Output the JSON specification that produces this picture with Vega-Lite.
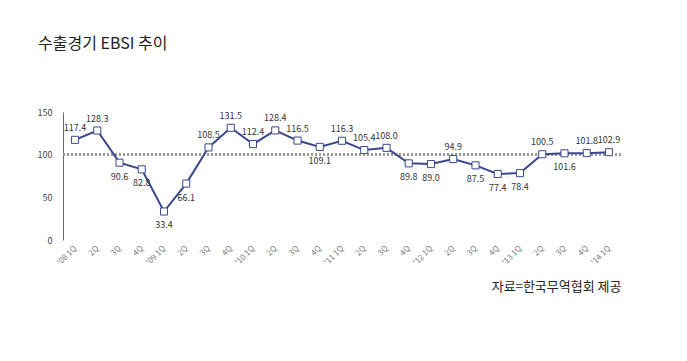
{
  "$schema": "https://vega.github.io/schema/vega-lite/v6.json",
  "width": 558,
  "height": 128,
  "autosize": "none",
  "padding": {"left": 63, "top": 112, "right": 66, "bottom": 121},
  "background": "white",
  "title": {"text": "수출경기 EBSI 추이", "anchor": "start", "frame": "group", "dx": -25, "offset": 56, "fontSize": 16, "fontWeight": "normal", "font": "Noto Sans CJK KR", "color": "#222"},
  "config": {"view": {"stroke": null}, "font": "Noto Sans CJK KR"},
  "data": {"values": [
    {"q": "'08 1Q", "v": 117.4, "pos": "up"},
    {"q": "'08 2Q", "v": 128.3, "pos": "up"},
    {"q": "'08 3Q", "v": 90.6, "pos": "down"},
    {"q": "'08 4Q", "v": 82.8, "pos": "down"},
    {"q": "'09 1Q", "v": 33.4, "pos": "down"},
    {"q": "'09 2Q", "v": 66.1, "pos": "down"},
    {"q": "'09 3Q", "v": 108.5, "pos": "up"},
    {"q": "'09 4Q", "v": 131.5, "pos": "up"},
    {"q": "'10 1Q", "v": 112.4, "pos": "up"},
    {"q": "'10 2Q", "v": 128.4, "pos": "up"},
    {"q": "'10 3Q", "v": 116.5, "pos": "up"},
    {"q": "'10 4Q", "v": 109.1, "pos": "down"},
    {"q": "'11 1Q", "v": 116.3, "pos": "up"},
    {"q": "'11 2Q", "v": 105.4, "pos": "up"},
    {"q": "'11 3Q", "v": 108.0, "pos": "up"},
    {"q": "'11 4Q", "v": 89.8, "pos": "down"},
    {"q": "'12 1Q", "v": 89.0, "pos": "down"},
    {"q": "'12 2Q", "v": 94.9, "pos": "up"},
    {"q": "'12 3Q", "v": 87.5, "pos": "down"},
    {"q": "'12 4Q", "v": 77.4, "pos": "down"},
    {"q": "'13 1Q", "v": 78.4, "pos": "down"},
    {"q": "'13 2Q", "v": 100.5, "pos": "up"},
    {"q": "'13 3Q", "v": 101.6, "pos": "down"},
    {"q": "'13 4Q", "v": 101.8, "pos": "up"},
    {"q": "'14 1Q", "v": 102.9, "pos": "up"}
  ]},
  "encoding": {
    "x": {"field": "q", "type": "ordinal", "sort": null,
      "scale": {"type": "point", "padding": 0.54},
      "axis": {"labelAngle": -45, "labelAlign": "right", "labelBaseline": "middle", "domain": false, "ticks": false,
        "labelFontSize": 8, "labelColor": "#777", "labelPadding": 7,
        "labelExpr": "indexof(datum.label, '1Q') >= 0 ? datum.label : slice(datum.label, 4)",
        "title": "자료=한국무역협회 제공", "titleAnchor": "end", "titleAlign": "right", "titleFontSize": 13, "titleFontWeight": "normal", "titleColor": "#222", "titlePadding": 14}},
    "y": {"field": "v", "type": "quantitative", "scale": {"domain": [0, 150]},
      "axis": {"values": [0, 50, 100, 150], "grid": false, "ticks": false, "domainColor": "#666", "labelColor": "#444", "labelFontSize": 9, "labelPadding": 11, "title": null}}
  },
  "layer": [
    {"mark": {"type": "rule", "color": "#9a9a9a", "strokeWidth": 2, "strokeDash": [2, 2]}, "encoding": {"y": {"datum": 100}, "x": null}},
    {"mark": {"type": "line", "color": "#3a478c", "strokeWidth": 2}},
    {"mark": {"type": "point", "shape": "square", "filled": true, "fill": "white", "stroke": "#3a478c", "strokeWidth": 1, "size": 50, "opacity": 1}},
    {"transform": [{"filter": "datum.pos == 'up'"}], "mark": {"type": "text", "dy": -12, "fontSize": 9, "color": "#333"}, "encoding": {"text": {"field": "v", "type": "quantitative", "format": ".1f"}}},
    {"transform": [{"filter": "datum.pos == 'down'"}], "mark": {"type": "text", "dy": 14, "fontSize": 9, "color": "#333"}, "encoding": {"text": {"field": "v", "type": "quantitative", "format": ".1f"}}}
  ]
}
